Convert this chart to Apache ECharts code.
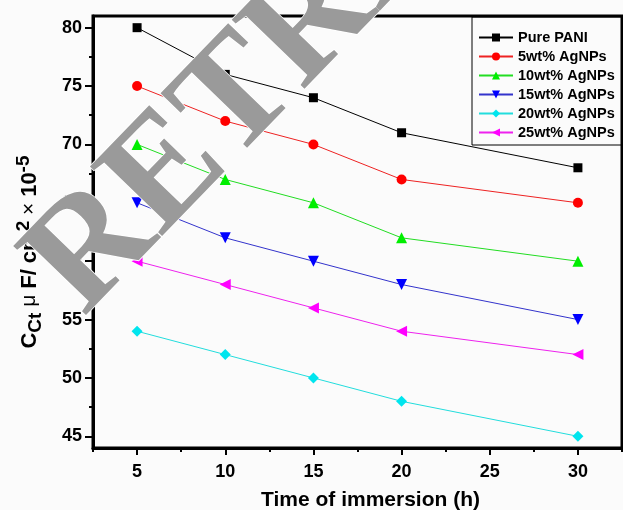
<!DOCTYPE html>
<html><head><meta charset="utf-8">
<script src="https://cdn.jsdelivr.net/npm/echarts@6/dist/echarts.min.js"></script>
<style>html,body{margin:0;padding:0;background:#fbfbfb}#c{width:623px;height:510px}</style>
</head><body><div id="c"></div>
<script>
var times = [5, 10, 15, 20, 30];
var seriesNames = ['Pure PANI', '5wt% AgNPs', '10wt% AgNPs', '15wt% AgNPs', '20wt% AgNPs', '25wt% AgNPs'];
var purePANI = [80, 76, 74, 71, 68];
var ag5 = [75, 72, 70, 67, 65];
var ag10 = [70, 67, 65, 62, 60];
var ag15 = [65, 62, 60, 58, 55];
var ag20 = [54, 52, 50, 48, 45];
var ag25 = [60, 58, 56, 54, 52];
var xMajorTicks = [5, 10, 15, 20, 25, 30];
var xMinorTicks = [2.5, 7.5, 12.5, 17.5, 22.5, 27.5, 32.5];
var yMajorTicks = [45, 50, 55, 60, 65, 70, 75, 80];
var yMinorTicks = [47.5, 52.5, 57.5, 62.5, 67.5, 72.5, 77.5];

var allValues = [purePANI, ag5, ag10, ag15, ag20, ag25];
var colors = ['#000000', '#ff0000', '#00ee00', '#0000ff', '#00e5ee', '#ff00ff'];
var lineColors = ['#000000', '#ee2222', '#22dd22', '#3333cc', '#22dddd', '#ee22ee'];
var symbols = ['rect', 'circle', 'triangle', 'triangle', 'diamond', 'triangle'];
var rotates = [0, 0, 0, 180, 0, 90];
var sizes = [9, 10, 11, 11, 11, 11];

var chart = echarts.init(document.getElementById('c'), null, {renderer: 'canvas'});
var series = allValues.map(function (vals, i) {
  return {
    name: seriesNames[i], type: 'line', xAxisIndex: 0, yAxisIndex: 0,
    data: vals.map(function (v, j) { return [times[j], v]; }),
    symbol: symbols[i], symbolRotate: rotates[i], symbolSize: sizes[i],
    lineStyle: {color: lineColors[i], width: 1},
    itemStyle: {color: colors[i]},
    z: 3
  };
});
var font = 'Liberation Sans, Arial, sans-serif';
var option = {
  backgroundColor: '#fbfbfb',
  animation: false,
  grid: {left: 93, right: 1, top: 16, bottom: 62, show: true, borderColor: '#000', borderWidth: 3,
         backgroundColor: 'transparent', outerBoundsMode: 'none', containLabel: false},
  legend: {
    top: 17, orient: 'vertical', left: 472,
    padding: [13, 10, 5, 6], itemGap: 4, itemWidth: 34, itemHeight: 10,
    borderColor: '#000', borderWidth: 1,
    textStyle: {fontFamily: font, fontWeight: 'bold', fontSize: 14.5, color: '#000', lineHeight: 14},
    data: seriesNames
  },
  xAxis: [{
    type: 'value', min: 2.5, max: 32.5,
    name: 'Time of immersion (h)', nameLocation: 'middle', nameGap: 42,
    nameTextStyle: {fontFamily: font, fontWeight: 'bold', fontSize: 21, color: '#000', padding: [0, 0, 0, 26]},
    axisLine: {show: true, lineStyle: {color: '#000', width: 3}},
    axisTick: {show: true, length: 7, lineStyle: {width: 2, color: '#000'}, customValues: xMajorTicks},
    axisLabel: {customValues: xMajorTicks, margin: 15, fontFamily: font, fontWeight: 'bold', fontSize: 18, color: '#000'},
    splitLine: {show: false}
  }, {
    type: 'value', min: 2.5, max: 32.5, position: 'bottom',
    axisLine: {show: false},
    axisTick: {show: true, length: 4, lineStyle: {width: 2, color: '#000'}, customValues: xMinorTicks},
    axisLabel: {show: false}, splitLine: {show: false}
  }],
  yAxis: [{
    type: 'value', min: 44, max: 81,
    name: '{b|C}{sub|Ct}{g| μ }{b|F/ cm}{sup|2}{g| × }{b|10}{sup|-5}',
    nameLocation: 'middle', nameGap: 48, nameRotate: 90,
    nameTextStyle: {
      padding: [0, 0, 0, -40],
      rich: {
        b: {fontFamily: font, fontWeight: 'bold', fontSize: 22, color: '#000'},
        g: {fontFamily: font, fontSize: 21, color: '#000'},
        sub: {fontFamily: font, fontWeight: 'bold', fontSize: 19, color: '#000', verticalAlign: 'bottom', padding: [9, 0, 0, 0]},
        sup: {fontFamily: font, fontWeight: 'bold', fontSize: 19, color: '#000', verticalAlign: 'top', padding: [0, 0, 12, 0]}
      }
    },
    axisLine: {show: true, lineStyle: {color: '#000', width: 3}},
    axisTick: {show: true, length: 8, lineStyle: {width: 2, color: '#000'}, customValues: yMajorTicks},
    axisLabel: {customValues: yMajorTicks, margin: 11, fontFamily: font, fontWeight: 'bold', fontSize: 18, color: '#000'},
    splitLine: {show: false}
  }, {
    type: 'value', min: 44, max: 81, position: 'left',
    axisLine: {show: false},
    axisTick: {show: true, length: 4, lineStyle: {width: 2, color: '#000'}, customValues: yMinorTicks},
    axisLabel: {show: false}, splitLine: {show: false}
  }],
  graphic: [{
    type: 'text', x: 55, y: 290, rotation: 46 * Math.PI / 180, z: 100, silent: true,
    style: {
      text: 'RETRACTED', fontFamily: 'Liberation Serif, Times New Roman, serif', fontWeight: 'bold',
      fontSize: 153, fill: '#9a9a9a', stroke: '#ffffff', lineWidth: 1.5,
      textAlign: 'left', textVerticalAlign: 'middle'
    }
  }],
  series: series
};
chart.setOption(option);
</script></body></html>
